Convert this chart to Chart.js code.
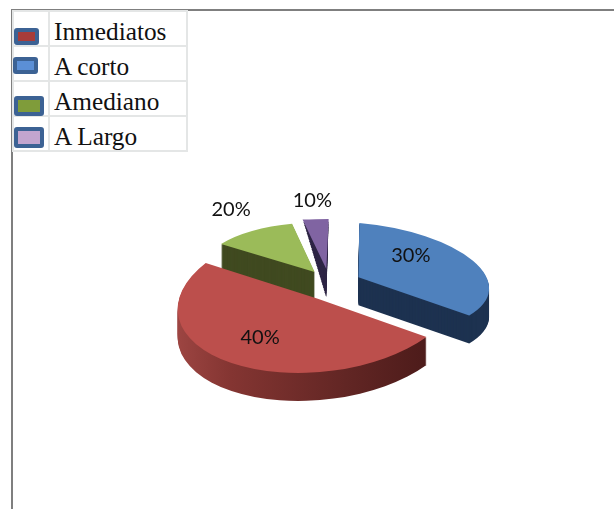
<!DOCTYPE html>
<html>
<head>
<meta charset="utf-8">
<title>Plazos</title>
<script src="https://cdn.jsdelivr.net/npm/chart.js@4"></script>
<style>
    html, body { margin: 0; padding: 0; background: #fff; overflow: hidden; }
    #page { position: relative; width: 614px; height: 509px; overflow: hidden; }
    #frame { position: absolute; left: 11px; top: 9px; width: 640px; height: 540px; border-left: 2px solid #7f7f7f; border-top: 2px solid #7f7f7f; }
    #pie { position: absolute; left: 0; top: 0; display: block; }
    #legendTable { position: absolute; left: 12px; top: 10px; border-collapse: collapse; font-family: "Liberation Serif", serif; font-size: 25.3px; color: #111; background: #fff; }
    #legendTable td { border: 2px solid #e4e6e6; padding: 0; height: 33px; line-height: 33px; }
    #legendTable td.key { width: 34px; position: relative; }
    #legendTable td.name { width: 138px; padding-left: 4px; box-sizing: border-box; white-space: nowrap; }
    #legendTable td.name span { position: relative; top: 3px; }
    .swatch { position: absolute; box-sizing: border-box; border: 4px solid #3c6294; border-radius: 3px; }
</style>
</head>
<body>
<div id="page">
    <div id="frame"></div>
    <canvas id="pie" width="614" height="509"></canvas>
    <table id="legendTable"><tbody></tbody></table>
</div>
<script>
// clockwise from the top of the pie
const categories = ['A corto', 'Inmediatos', 'Amediano', 'A Largo'];
// slice sizes as drawn, they don't follow the printed percentages
const sliceValues = [34, 50.5, 12.5, 3];
const percentLabels = ['30%', '40%', '20%', '10%'];
const sliceColors = ['#4f81bd', '#bc4f4c', '#9bbb59', '#8064a2'];
const wallColors = ['#1d3250', '#7d302e', '#404a20', '#2e2545'];
const explode = [120, 128, 110, 140];

const legendNames = ['Inmediatos', 'A corto', 'Amediano', 'A Largo'];
const legendColors = ['#a83c3a', '#5b8fd6', '#7f9c3a', '#c3a5cf'];
// left, top, width, height inside the key cell
const legendBoxes = [[0, 16, 25, 17], [-1, 10, 25, 17], [0, 14, 30, 20], [0, 10, 30, 21]];

// sx, sy, shear y, shear x, shift x, shift y for each slice: fakes the perspective of the 3D pie
const tilt = [
    [1.12, 0.466, 0.095, 0, 0, 0],
    [0.97, 0.514, -0.03, -0.08, 8, 3],
    [0.95, 0.41, 0, 0, 0, 0],
    [1.5, 0.357, 0, -0.065, 0, 0]
];
const depth = 28;
// how much the wall narrows towards the bottom, the thin back slice ends in a point
const wallTaper = [0, 0, 0, 0.95];
const drawOrder = [3, 2, 0, 1];
// nudge from the slice centre to where the text sits
const labelShift = [[-32, -10], [-5, 0], [-40, -34], [-7, -36]];

var tableBody = document.querySelector('#legendTable tbody');
legendNames.forEach(function (name, i) {
    var row = document.createElement('tr');
    var b = legendBoxes[i];
    row.innerHTML = `
        <td class="key"><div class="swatch" style="left:${b[0]}px;top:${b[1]}px;width:${b[2]}px;height:${b[3]}px;background:${legendColors[i]}"></div></td>
        <td class="name"><span>${name}</span></td>
    `;
    tableBody.appendChild(row);
});

function applyTilt(ctx, arc, i) {
    const t = tilt[i];
    ctx.translate(arc.x + t[4], arc.y + t[5]);
    ctx.transform(t[0], t[2], t[3], t[1], 0, 0);
    ctx.translate(-arc.x, -arc.y);
}

function projectCentre(arc, i) {
    const t = tilt[i];
    const c = arc.getCenterPoint();
    const dx = c.x - arc.x;
    const dy = c.y - arc.y;
    return {
        x: arc.x + t[4] + t[0] * dx + t[3] * dy + labelShift[i][0],
        y: arc.y + t[5] + t[2] * dx + t[1] * dy + labelShift[i][1]
    };
}

const pie3d = {
    id: 'pie3d',
    beforeDatasetsDraw(chart) {
        const ctx = chart.ctx;
        const arcs = chart.getDatasetMeta(0).data;
        drawOrder.forEach(function (i) {
            const arc = arcs[i];
            const topOptions = arc.options;
            let wall = wallColors[i];
            if (i === 1) {
                // the front wall of the big slice gets lighter to the left
                wall = ctx.createLinearGradient(arc.x - 170, 0, arc.x + 130, 0);
                wall.addColorStop(0, '#a84c49');
                wall.addColorStop(0.3, '#843532');
                wall.addColorStop(0.7, '#622624');
                wall.addColorStop(1, '#4a1a19');
            }
            const wallOptions = Object.create(topOptions);
            wallOptions.backgroundColor = wall;
            arc.options = wallOptions;
            const mid = (arc.startAngle + arc.endAngle) / 2;
            const apexX = arc.x + Math.cos(mid) * explode[i] / 4;
            const apexY = arc.y + Math.sin(mid) * explode[i] / 4;
            for (let d = depth; d >= 1; d--) {
                const s = 1 - wallTaper[i] * d / depth;
                ctx.save();
                ctx.translate(0, d);
                applyTilt(ctx, arc, i);
                ctx.translate(apexX, apexY);
                ctx.scale(s, s);
                ctx.translate(-apexX, -apexY);
                arc.draw(ctx);
                ctx.restore();
            }
            arc.options = topOptions;
            ctx.save();
            applyTilt(ctx, arc, i);
            arc.draw(ctx);
            ctx.restore();
        });
        ctx.save();
        ctx.font = '20px Lato';
        ctx.fillStyle = '#111';
        ctx.textAlign = 'center';
        ctx.textBaseline = 'middle';
        arcs.forEach(function (arc, i) {
            const p = projectCentre(arc, i);
            ctx.fillText(percentLabels[i], p.x, p.y);
        });
        ctx.restore();
        return false;
    }
};

new Chart(document.getElementById('pie').getContext('2d'), {
    type: 'pie',
    data: {
        labels: categories,
        datasets: [{
            data: sliceValues,
            backgroundColor: sliceColors,
            offset: explode,
            borderWidth: 0
        }]
    },
    options: {
        responsive: false,
        animation: false,
        events: [],
        radius: 112,
        layout: { padding: { left: 44, top: 54 } },
        plugins: { legend: { display: false }, tooltip: { enabled: false } }
    },
    plugins: [pie3d]
});
</script>
</body>
</html>
